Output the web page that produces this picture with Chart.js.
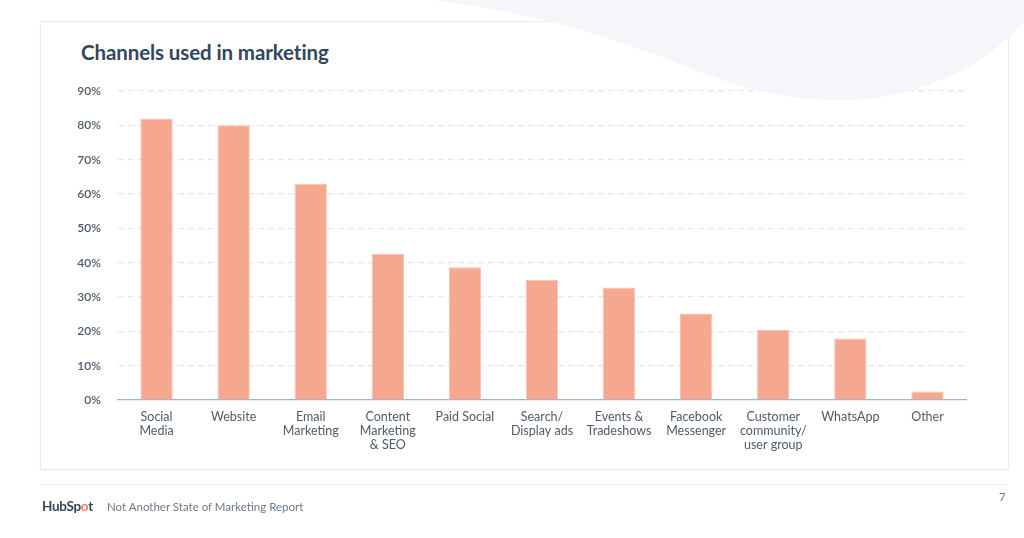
<!DOCTYPE html>
<html>
<head>
<meta charset="utf-8">
<script src="https://cdn.jsdelivr.net/npm/chart.js@4.4.0/dist/chart.umd.min.js"></script>
<style>
  html, body { margin:0; padding:0; background:#fff; }
  #wrap { position:relative; width:1024px; height:538px; overflow:hidden; font-family: Lato, "Open Sans", sans-serif; }
  #card { position:absolute; left:40px; top:21px; width:967px; height:447px; border:1px solid #ebebeb; box-shadow:0 0 2px rgba(0,0,0,0.04); background:#fff; }
  #title { position:absolute; left:81px; top:40px; font-size:20.5px; font-weight:700; color:#33475b; letter-spacing:-0.1px; }
  canvas#c { position:absolute; left:0; top:0; }
  #wave { position:absolute; left:0; top:0; pointer-events:none; }
  #fline { position:absolute; left:40px; top:484px; width:967px; height:1px; background:#f0f1f3; }
  #logo { position:absolute; left:42px; top:498px; font-size:13.5px; font-weight:700; color:#33475b; letter-spacing:-0.3px; }
  #logo span { color:#ff7a59; }
  #foot { position:absolute; left:107px; top:500px; font-size:11.5px; color:#6b7a8c; }
  #page { position:absolute; left:999px; top:490px; font-size:11.5px; color:#6b7a8c; }
</style>
</head>
<body>
<div id="wrap">
  <div id="card"></div>
  <div id="title">Channels used in marketing</div>
  <canvas id="c" width="1024" height="538"></canvas>
  <svg id="wave" width="1024" height="538">
    <path d="M433,0 C545,14 620,40 700,72 C765,98 815,101 850,100 C930,97 990,60 1024,22 L1024,0 Z" fill="#f5f6fa"/>
  </svg>
  <div id="fline"></div>
  <div id="logo">HubSp<span>o</span>t</div>
  <div id="foot">Not Another State of Marketing Report</div>
  <div id="page">7</div>
</div>
<script>
const categories = [
  ["Social", "Media"],
  ["Website"],
  ["Email", "Marketing"],
  ["Content", "Marketing", "& SEO"],
  ["Paid Social"],
  ["Search/", "Display ads"],
  ["Events &", "Tradeshows"],
  ["Facebook", "Messenger"],
  ["Customer", "community/", "user group"],
  ["WhatsApp"],
  ["Other"]
];
const values = [82, 80, 63, 42.6, 38.7, 35, 32.8, 25.2, 20.4, 17.9, 2.5];
const yTicks = [0, 10, 20, 30, 40, 50, 60, 70, 80, 90];

new Chart(document.getElementById('c'), {
  type: 'bar',
  data: {
    labels: categories,
    datasets: [{
      data: values,
      backgroundColor: '#f6a78f',
      borderColor: '#f9c2b1',
      borderWidth: 1,
      barPercentage: 0.42,
      categoryPercentage: 1
    }]
  },
  options: {
    responsive: false,
    animation: false,
    devicePixelRatio: 1,
    layout: { padding: { left: 60, right: 58, top: 91, bottom: 0 } },
    plugins: { legend: { display: false }, tooltip: { enabled: false }, title: { display: false } },
    scales: {
      x: {
        grid: { display: false, drawTicks: false },
        border: { display: true, color: '#9fb3cc', width: 1.2 },
        ticks: {
          color: '#4f5b69',
          font: { family: 'Lato', size: 12.5, lineHeight: 1.12 },
          padding: 10,
          maxRotation: 0,
          autoSkip: false
        },
        afterFit(scale) { scale.height = 138; }
      },
      y: {
        min: 0, max: 90,
        afterBuildTicks(scale) { scale.ticks = yTicks.map(v => ({ value: v })); },
        grid: {
          color: (ctx) => ctx.tick && ctx.tick.value === 0 ? 'rgba(0,0,0,0)' : '#e4e9f1',
          lineWidth: 1.2,
          drawTicks: false
        },
        border: { display: false, dash: [6, 4] },
        ticks: {
          color: '#4f5b69',
          font: { family: 'Lato', size: 12, weight: '600' },
          padding: 17,
          callback: (v) => v + '%'
        },
        afterFit(scale) { scale.width = 58; }
      }
    }
  }
});
</script>
</body>
</html>
